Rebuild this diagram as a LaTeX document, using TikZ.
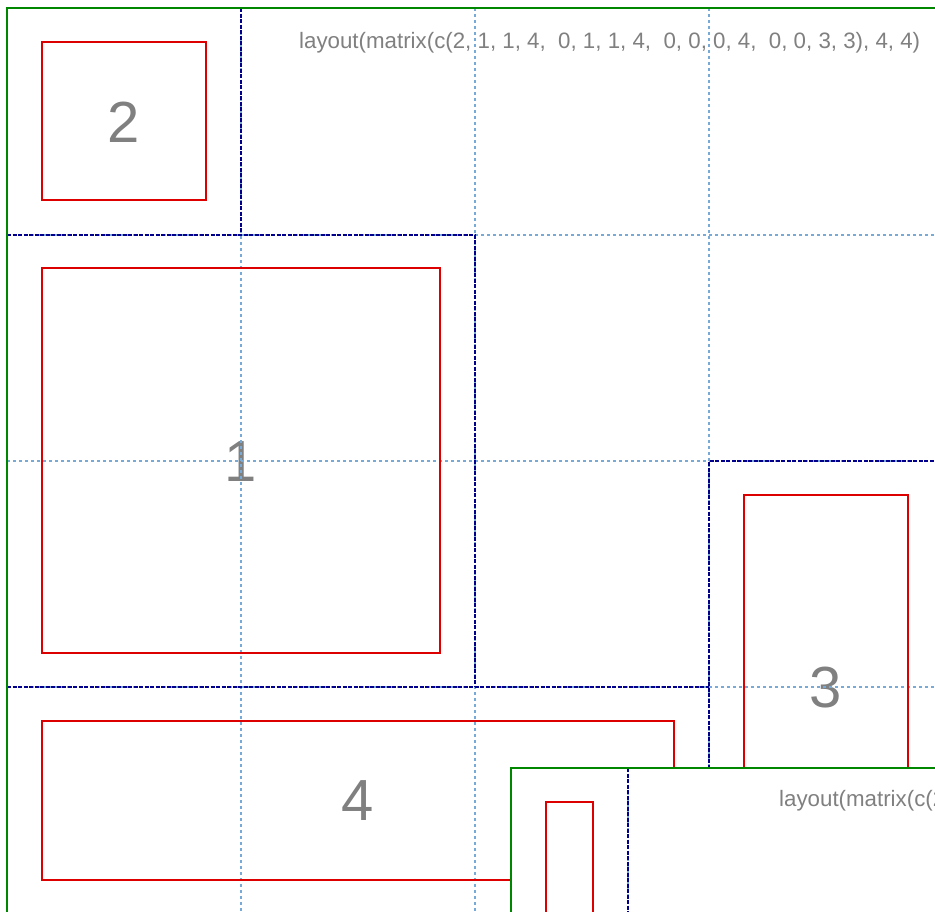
\documentclass[tikz,border=0pt]{standalone}
\usepackage{fontspec}
\setmainfont{Liberation Sans}
\usepackage{xcolor}
\definecolor{plotgreen}{RGB}{0,135,0}
\definecolor{gridblue}{RGB}{120,170,215}
\definecolor{regionnavy}{RGB}{0,0,140}
\definecolor{boxred}{RGB}{220,0,0}
\definecolor{labelgray}{RGB}{128,128,128}
\tikzset{
  outerframe/.style={draw=plotgreen,line width=2.6pt},
  gridline/.style={draw=gridblue,line width=1.3pt,dash pattern=on 2.5pt off 3.5pt},
  regionline/.style={draw=regionnavy,line width=2pt,dash pattern=on 4pt off 1.5pt},
  plotbox/.style={draw=boxred,line width=2.4pt},
  panellabel/.style={text=labelgray,inner sep=0pt,font=\fontsize{58}{58}\selectfont},
  calltext/.style={text=labelgray,inner sep=0pt,anchor=west,font=\fontsize{22.3}{22.3}\selectfont}
}
\newcommand{\layoutcall}{layout(matrix(c(2, 1, 1, 4,\ \ 0, 1, 1, 4,\ \ 0, 0, 0, 4,\ \ 0, 0, 3, 3), 4, 4)}

\begin{document}
\begin{tikzpicture}[x=1pt,y=-1pt]
  \clip (0,0) rectangle (935,911);
  \fill[white] (0,0) rectangle (935,911);

  % panel labels (under the grid)
  \node[panellabel] (lab2) at (124,122) {2};
  \node[panellabel] (lab1) at (241,462) {1};
  \node[panellabel] (lab3) at (826,688) {3};
  \node[panellabel] (lab4) at (358,801) {4};

  % cell grid
  \foreach \gx in {241,475,709}
    \draw[gridline] (\gx,8) -- (\gx,930);
  \foreach \gy in {235,461,687}
    \draw[gridline] (7,\gy) -- (950,\gy);

  % region borders
  \draw[regionline] (241,8) -- (241,235);
  \draw[regionline] (7,235) -- (475,235) -- (475,687);
  \draw[regionline] (7,687) -- (709,687);
  \draw[regionline] (950,461) -- (709,461) -- (709,930);

  % plot boxes
  \draw[plotbox] (42,42) rectangle (206,200);
  \draw[plotbox] (42,268) rectangle (440,653);
  \draw[plotbox] (744,495) rectangle (908,879);
  \draw[plotbox] (42,721) rectangle (674,880);

  \node[calltext] (call) at (299,43) {\layoutcall};

  \draw[outerframe] (7,930) -- (7,8) -- (950,8);

  % smaller copy on top
  \fill[white] (511,768) rectangle (950,930);
  \draw[gridline] (628,768) -- (628,930);
  \draw[regionline] (628,768) -- (628,930);
  \draw[plotbox] (546,802) rectangle (593,940);
  \node[calltext] (call2) at (779,801) {\layoutcall};
  \draw[outerframe] (511,930) -- (511,768) -- (950,768);
\end{tikzpicture}
\end{document}
